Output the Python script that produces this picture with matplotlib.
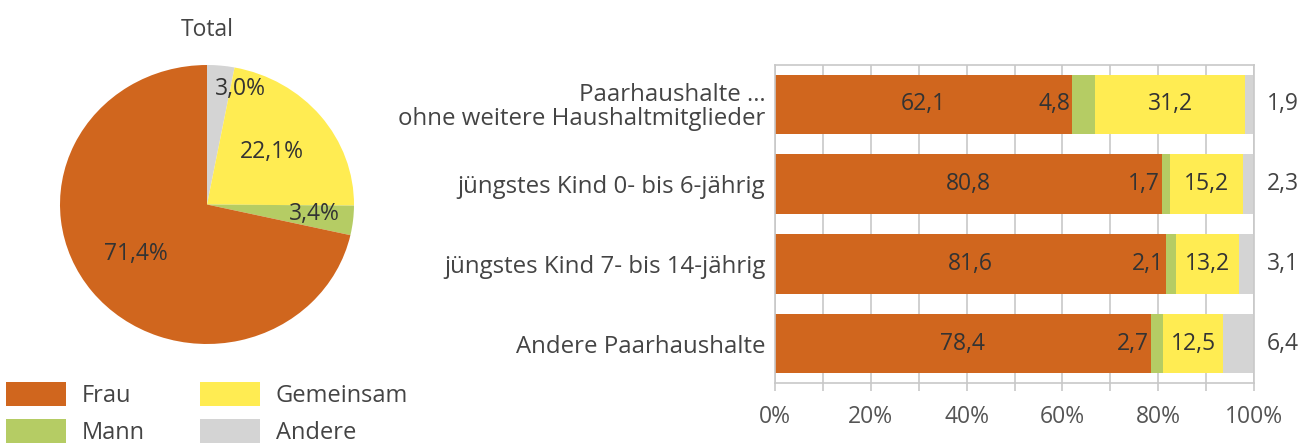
import numpy as np
import matplotlib
matplotlib.use("Agg")
import matplotlib.pyplot as plt
from matplotlib.patches import Patch
from matplotlib.ticker import MultipleLocator, FuncFormatter

plt.rcParams['font.family'] = ['Open Sans', 'DejaVu Sans']

# data
categories = ["Paarhaushalte …\nohne weitere Haushaltmitglieder",
              "jüngstes Kind 0- bis 6-jährig",
              "jüngstes Kind 7- bis 14-jährig",
              "Andere Paarhaushalte"]
frau = [62.1, 80.8, 81.6, 78.4]
mann = [4.8, 1.7, 2.1, 2.7]
gemeinsam = [31.2, 15.2, 13.2, 12.5]
andere = [1.9, 2.3, 3.1, 6.4]

series_names = ["Frau", "Mann", "Gemeinsam", "Andere"]
total = [71.4, 3.4, 22.1, 3.0]

colors = {"Frau": "#D0661E", "Mann": "#B5CC64", "Gemeinsam": "#FFEC52", "Andere": "#D4D4D4"}
txt = "#333333"
fs = 16.5

W, H = 1312, 445
fig = plt.figure(figsize=(W / 100, H / 100), dpi=100)

# ---- pie ----
axp = fig.add_axes([60 / W, 1 - 344 / H, 294 / W, 279 / H])
pie_order = ["Andere", "Gemeinsam", "Mann", "Frau"]
pie_vals = [total[series_names.index(n)] for n in pie_order]
wedges, _ = axp.pie(pie_vals, colors=[colors[n] for n in pie_order],
                    startangle=90, counterclock=False, radius=1,
                    wedgeprops=dict(linewidth=0))
axp.set_aspect('auto')
axp.set_xlim(-1, 1)
axp.set_ylim(-1, 1)
# label radius / angle shift per wedge
lab_r = {"Andere": 0.86, "Gemeinsam": 0.58, "Mann": 0.73, "Frau": 0.6}
lab_da = {"Andere": -10, "Gemeinsam": 1, "Mann": 1.5, "Frau": -2}
for w, n, v in zip(wedges, pie_order, pie_vals):
    a = np.deg2rad((w.theta1 + w.theta2) / 2 + lab_da[n])
    axp.text(lab_r[n] * np.cos(a), lab_r[n] * np.sin(a),
             f"{v:.1f}%".replace(".", ","), ha='center', va='center',
             fontsize=fs, color=txt)
fig.text(207 / W, 1 - 30 / H, "Total", ha='center', va='center', fontsize=fs, color="#444444")

handles = [Patch(facecolor=colors[n], edgecolor='none', label=n) for n in series_names]
fig.legend(handles=handles, ncol=2, loc='upper left',
           bbox_to_anchor=(6 / W, 1 - 382 / H), frameon=False, fontsize=17,
           handlelength=2.55, handleheight=1.2, handletextpad=0.65,
           labelspacing=0.45, columnspacing=2.35, borderpad=0, borderaxespad=0,
           labelcolor="#444444")

# ---- stacked bars ----
ax = fig.add_axes([775 / W, 1 - 383 / H, 479 / W, 318 / H])
y = np.arange(len(categories))
left = np.zeros(len(categories))
for n, vals in zip(series_names, [frau, mann, gemeinsam, andere]):
    ax.barh(y, vals, left=left, height=0.74, color=colors[n], linewidth=0, zorder=2)
    left = left + np.array(vals)

for i in range(len(categories)):
    ax.text(frau[i] / 2, y[i], f"{frau[i]:.1f}".replace(".", ","), ha='center', va='center',
            fontsize=fs, color=txt, zorder=3)
    ax.text(frau[i] - 0.4, y[i], f"{mann[i]:.1f}".replace(".", ","), ha='right', va='center',
            fontsize=fs, color=txt, zorder=3)
    g0 = frau[i] + mann[i]
    ax.text(g0 + gemeinsam[i] / 2, y[i], f"{gemeinsam[i]:.1f}".replace(".", ","),
            ha='center', va='center', fontsize=fs, color=txt, zorder=3)
    ax.text(106, y[i], f"{andere[i]:.1f}".replace(".", ","), ha='center', va='center',
            fontsize=fs, color="#444444", clip_on=False)

ax.set_xlim(0, 100)
ax.set_ylim(3.49, -0.49)
ax.set_yticks(y)
ax.set_yticklabels(categories, fontsize=17.3, color="#444444", linespacing=1.0)
ax.tick_params(axis='y', length=0, pad=7)
ax.xaxis.set_major_locator(MultipleLocator(20))
ax.xaxis.set_minor_locator(MultipleLocator(10))
ax.xaxis.set_major_formatter(FuncFormatter(lambda v, p: f"{v:.0f}%"))
ax.tick_params(axis='x', which='both', length=6, width=1.2, color="#C8C8C8",
               labelsize=fs, labelcolor="#555555", pad=10)
ax.grid(True, which='both', axis='x', color="#C8C8C8", linewidth=1.2, zorder=0)
ax.set_axisbelow(True)
for s in ax.spines.values():
    s.set_color("#C8C8C8")
    s.set_linewidth(1.2)

fig.savefig("out.png", dpi=100)
